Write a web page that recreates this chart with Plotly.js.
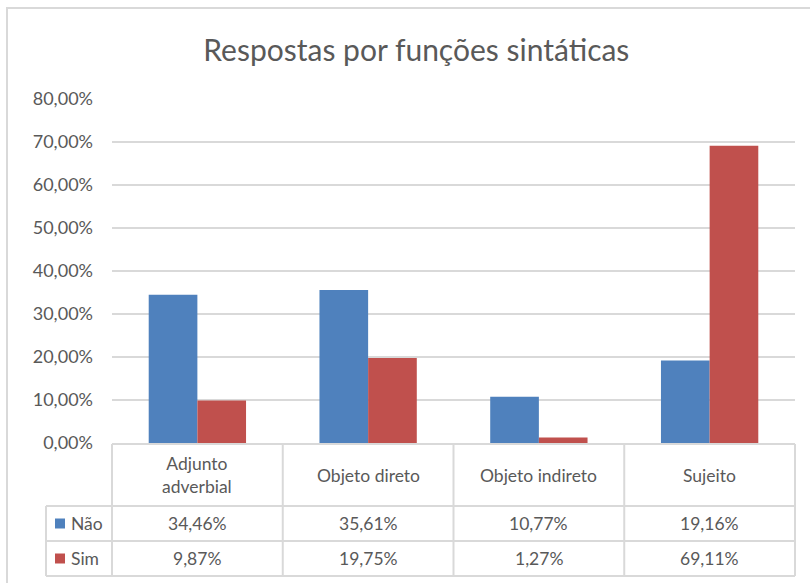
<!DOCTYPE html>
<html>
<head>
<meta charset="utf-8">
<script src="https://cdn.plot.ly/plotly-3.0.1.min.js"></script>
<style>html,body{margin:0;padding:0;background:#fff;}#chart{width:810px;height:583px;}</style>
</head>
<body>
<div id="chart"></div>
<script>
var categories = ["Adjunto<br>adverbial", "Objeto direto", "Objeto indireto", "Sujeito"];
var seriesNames = ["Não", "Sim"];
var naoValues = [34.46, 35.61, 10.77, 19.16];
var simValues = [9.87, 19.75, 1.27, 69.11];
var yTickValues = [0, 10, 20, 30, 40, 50, 60, 70, 80];

var W = 810, H = 583;
var M = {l: 112, r: 15, t: 99, b: 140};
var PW = W - M.l - M.r, PH = H - M.t - M.b;
function px(x) { return (x - M.l) / PW; }
function py(y) { return (H - M.b - y) / PH; }

var colors = ["#4F81BD", "#C0504D"];
var gridC = "#d9d9d9";
var textC = "#595959";
var FONT = "Lato, 'Open Sans', sans-serif";
var TS = 17.5;

function fmt(v) { return v.toFixed(2).replace('.', ',') + '%'; }

var cats = categories.map(function (c, i) { return i; });

var traces = [
  {type: 'bar', x: cats, y: naoValues, name: seriesNames[0], marker: {color: colors[0]}, hoverinfo: 'none'},
  {type: 'bar', x: cats, y: simValues, name: seriesNames[1], marker: {color: colors[1]}, hoverinfo: 'none'}
];

var shapes = [];
var annotations = [];
function hline(y, x0, x1) {
  shapes.push({type: 'line', xref: 'paper', yref: 'paper', x0: px(x0), x1: px(x1), y0: py(y), y1: py(y), line: {color: gridC, width: 2}});
}
function vline(x, y0, y1) {
  shapes.push({type: 'line', xref: 'paper', yref: 'paper', x0: px(x), x1: px(x), y0: py(y0), y1: py(y1), line: {color: gridC, width: 2}});
}
// outer chart border
shapes.push({type: 'rect', xref: 'paper', yref: 'paper', x0: px(7), x1: px(815), y0: py(8), y1: py(600), line: {color: gridC, width: 2}});

// table geometry
var tTop = 444, hBot = 506, r1Bot = 541, r2Bot = 576;
var tLeft = 46, tRight = 795;
hline(tTop, M.l, tRight);
hline(hBot, tLeft, tRight);
hline(r1Bot, tLeft, tRight);
hline(r2Bot, tLeft, tRight);
vline(tLeft, hBot, r2Bot);
for (var i = 0; i <= categories.length; i++) {
  vline(M.l + PW * i / categories.length, tTop, r2Bot);
}

// header labels
categories.forEach(function (c, i) {
  annotations.push({xref: 'x', yref: 'paper', x: i, y: py((tTop + hBot) / 2), text: c, showarrow: false,
    font: {family: FONT, size: TS, color: textC}, xanchor: 'center', yanchor: 'middle'});
});
var rows = [naoValues, simValues];
var rowCenters = [(hBot + r1Bot) / 2, (r1Bot + r2Bot) / 2];
rows.forEach(function (vals, r) {
  vals.forEach(function (v, i) {
    annotations.push({xref: 'x', yref: 'paper', x: i, y: py(rowCenters[r]), text: fmt(v), showarrow: false,
      font: {family: FONT, size: TS, color: textC}, xanchor: 'center', yanchor: 'middle'});
  });
  shapes.push({type: 'rect', xref: 'paper', yref: 'paper', x0: px(55), x1: px(65), y0: py(rowCenters[r] - 5), y1: py(rowCenters[r] + 5),
    fillcolor: colors[r], line: {width: 0}});
  annotations.push({xref: 'paper', yref: 'paper', x: px(69), y: py(rowCenters[r]), text: seriesNames[r], showarrow: false,
    font: {family: FONT, size: TS, color: textC}, xanchor: 'left', yanchor: 'middle'});
});

var layout = {
  width: W, height: H,
  margin: M,
  paper_bgcolor: '#fff', plot_bgcolor: '#fff',
  separators: ',.',
  showlegend: false,
  bargap: 0.43, bargroupgap: 0,
  barmode: 'group',
  title: {text: 'Respostas por funções sintáticas', x: 0.514, xanchor: 'center', y: 1 - 50 / H, yanchor: 'middle',
    font: {family: FONT, size: 30, color: textC}},
  xaxis: {type: 'linear', range: [-0.5, categories.length - 0.5], showticklabels: false, showgrid: false, zeroline: false,
    showline: false, ticks: ''},
  yaxis: {range: [0, 80], tickvals: yTickValues, ticktext: yTickValues.map(fmt), showgrid: true, gridcolor: gridC, gridwidth: 2,
    zeroline: false, showline: false, ticks: '', ticklabelstandoff: 18, tickfont: {family: FONT, size: 18, color: textC}},
  shapes: shapes,
  annotations: annotations
};

Plotly.newPlot('chart', traces, layout, {staticPlot: true, displayModeBar: false});
</script>
</body>
</html>
